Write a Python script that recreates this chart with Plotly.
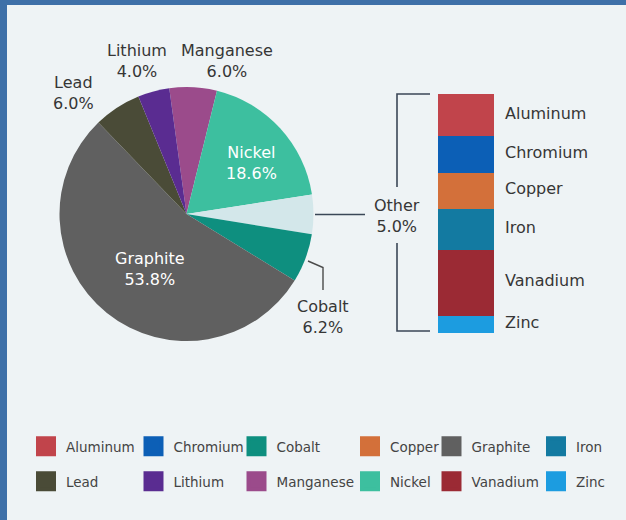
import plotly.graph_objects as go

W, H = 626, 520

# ---- data ----
pie_labels = ["Manganese", "Nickel", "Other", "Cobalt", "Graphite", "Lead", "Lithium"]
pie_values = [6.0, 18.6, 5.0, 6.2, 53.8, 6.0, 4.0]

other_labels = ["Aluminum", "Chromium", "Copper", "Iron", "Vanadium", "Zinc"]
other_values = [0.88, 0.77, 0.75, 0.86, 1.38, 0.36]
other_total = 5.0

legend_columns = [
    ["Aluminum", "Lead"],
    ["Chromium", "Lithium"],
    ["Cobalt", "Manganese"],
    ["Copper", "Nickel"],
    ["Graphite", "Vanadium"],
    ["Iron", "Zinc"],
]

colors = {
    "Aluminum": "#c1444b",
    "Chromium": "#0c5fb6",
    "Cobalt": "#0e8f7f",
    "Copper": "#d3703a",
    "Graphite": "#606060",
    "Iron": "#137aa1",
    "Lead": "#4a4b37",
    "Lithium": "#5a2c91",
    "Manganese": "#9b4b8b",
    "Nickel": "#3dbf9f",
    "Vanadium": "#9b2a34",
    "Zinc": "#1c9ce0",
    "Other": "#d3e7ea",
}

FONT = "DejaVu Sans"
TXT = "#363636"


def px(x):
    return x / W


def py(y):
    return 1 - y / H


fig = go.Figure()

# ---- pie ----
fig.add_trace(go.Pie(
    labels=pie_labels,
    values=pie_values,
    sort=False,
    direction="clockwise",
    rotation=-7.8,
    marker=dict(colors=[colors[l] for l in pie_labels], line=dict(width=0)),
    textinfo="none",
    hoverinfo="label+percent",
    showlegend=False,
    domain=dict(x=[px(59.5), px(313.5)], y=[py(341), py(87)]),
))

# ---- stacked bar for "Other" ----
for lab, val in zip(other_labels, other_values):
    fig.add_trace(go.Bar(
        x=["Other"], y=[val], name=lab,
        marker=dict(color=colors[lab], line=dict(width=0)),
        width=1, showlegend=False,
        xaxis="x", yaxis="y",
    ))

# ---- legend entries (6 columns) ----
legend_layouts = {}
col_swatch_centers = [46, 153.5, 256.5, 370, 451.5, 556]
for i, col in enumerate(legend_columns):
    lname = "legend" if i == 0 else f"legend{i+1}"
    for name in col:
        fig.add_trace(go.Scatter(
            x=[None], y=[None], mode="markers", name=name,
            marker=dict(symbol="square", size=16, color=colors[name],
                        line=dict(width=4, color=colors[name])),
            legend=lname, legendgroup=name, showlegend=True,
            xaxis="x", yaxis="y",
        ))
    legend_layouts[lname] = dict(
        x=px(col_swatch_centers[i] - 20), y=py(431),
        xanchor="left", yanchor="top",
        orientation="v", bgcolor="rgba(0,0,0,0)", borderwidth=0,
        tracegroupgap=14.5,
        font=dict(family=FONT, size=13.5, color="#444444"),
    )

# ---- annotations ----
ann = []
pie_label_pos = {
    "Lithium": (136.5, 61, TXT),
    "Manganese": (227, 61, TXT),
    "Lead": (73, 92.5, TXT),
    "Nickel": (251, 162.5, "#ffffff"),
    "Graphite": (150, 269, "#ffffff"),
    "Other": (397, 216, TXT),
    "Cobalt": (322.5, 316.5, TXT),
}
for lab, val in zip(pie_labels, pie_values):
    x, y, c = pie_label_pos[lab]
    ann.append(dict(
        x=px(x), y=py(y), xref="paper", yref="paper",
        text=f"{lab}<br>{val:.1f}%", showarrow=False,
        xanchor="center", yanchor="middle", align="center",
        font=dict(family=FONT, size=16, color=c),
    ))

cum = 0
for lab, val in zip(other_labels, other_values):
    mid = cum + val / 2
    cum += val
    ann.append(dict(
        x=px(503), y=mid, xref="paper", yref="y",
        text=lab, showarrow=False, xanchor="left", yanchor="middle",
        yshift=2,
        font=dict(family=FONT, size=16, color=TXT),
    ))

LINE = "#3b4757"
shapes = [
    # border
    dict(type="rect", xref="paper", yref="paper", x0=0, x1=px(7), y0=0, y1=1,
         fillcolor="#3e70a8", line=dict(width=0), layer="below"),
    dict(type="rect", xref="paper", yref="paper", x0=0, x1=1, y0=py(5), y1=1,
         fillcolor="#3e70a8", line=dict(width=0), layer="below"),
    # Other leader
    dict(type="line", xref="paper", yref="paper", x0=px(315), x1=px(365),
         y0=py(214.5), y1=py(214.5), line=dict(color=LINE, width=1.6)),
    # bracket top
    dict(type="path", xref="paper", yref="paper",
         path=f"M {px(430)} {py(94)} L {px(397)} {py(94)} L {px(397)} {py(187)}",
         line=dict(color=LINE, width=1.6)),
    # bracket bottom
    dict(type="path", xref="paper", yref="paper",
         path=f"M {px(397)} {py(243)} L {px(397)} {py(331)} L {px(430)} {py(331)}",
         line=dict(color=LINE, width=1.6)),
    # Cobalt leader
    dict(type="path", xref="paper", yref="paper",
         path=f"M {px(308)} {py(261)} L {px(323)} {py(267.5)} L {px(323)} {py(290)}",
         line=dict(color="#4a4a4a", width=1.4)),
]

layout = dict(
    width=W, height=H,
    margin=dict(l=0, r=0, t=0, b=0),
    paper_bgcolor="#eef3f5",
    plot_bgcolor="rgba(0,0,0,0)",
    barmode="stack", bargap=0,
    xaxis=dict(domain=[px(438), px(494)], range=[-0.5, 0.5], visible=False,
               fixedrange=True),
    yaxis=dict(domain=[py(333), py(94)], range=[other_total, 0], visible=False,
               fixedrange=True),
    annotations=ann,
    shapes=shapes,
    showlegend=True,
)
layout.update(legend_layouts)
fig.update_layout(**layout)

fig.write_html(
    "out.html",
    config={"displayModeBar": False},
    post_script="document.body.style.margin='0';document.body.style.overflow='hidden';",
)
